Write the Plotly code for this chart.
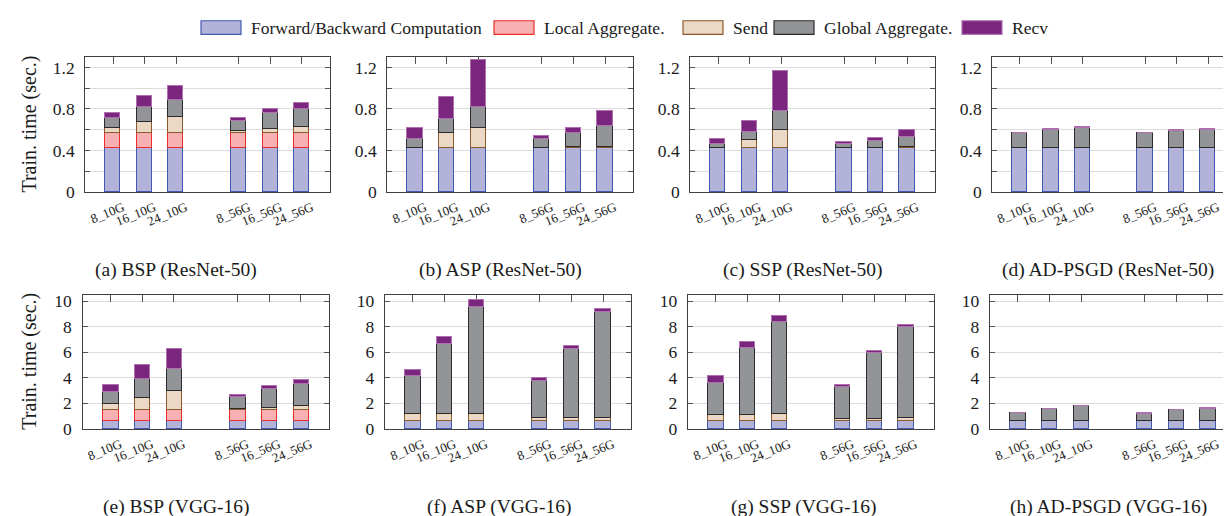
import plotly.graph_objects as go

W, H = 1231, 516

# ---------------- data ----------------
CATEGORIES = ["8_10G", "16_10G", "24_10G", "8_56G", "16_56G", "24_56G"]
COMPONENTS = ["Forward/Backward Computation", "Local Aggregate.", "Send",
              "Global Aggregate.", "Recv"]

# segment heights (sec.) per panel, order = CATEGORIES
BSP_RESNET = {
    "fwd":    [0.42, 0.42, 0.42, 0.42, 0.42, 0.42],
    "local":  [0.15, 0.15, 0.15, 0.15, 0.15, 0.15],
    "send":   [0.045, 0.10, 0.15, 0.017, 0.04, 0.058],
    "global": [0.10, 0.15, 0.17, 0.10, 0.15, 0.175],
    "recv":   [0.05, 0.10, 0.13, 0.022, 0.04, 0.05],
}
ASP_RESNET = {
    "fwd":    [0.42, 0.42, 0.42, 0.42, 0.42, 0.42],
    "local":  [0, 0, 0, 0, 0, 0],
    "send":   [0.007, 0.148, 0.195, 0.007, 0.016, 0.016],
    "global": [0.085, 0.138, 0.20, 0.085, 0.135, 0.198],
    "recv":   [0.103, 0.204, 0.452, 0.031, 0.044, 0.145],
}
SSP_RESNET = {
    "fwd":    [0.42, 0.42, 0.42, 0.42, 0.42, 0.42],
    "local":  [0, 0, 0, 0, 0, 0],
    "send":   [0.008, 0.078, 0.18, 0.008, 0.008, 0.01],
    "global": [0.038, 0.075, 0.178, 0.038, 0.063, 0.102],
    "recv":   [0.041, 0.114, 0.384, 0.016, 0.026, 0.068],
}
ADPSGD_RESNET = {
    "fwd":    [0.42, 0.42, 0.42, 0.42, 0.42, 0.42],
    "local":  [0, 0, 0, 0, 0, 0],
    "send":   [0, 0, 0, 0, 0, 0],
    "global": [0.15, 0.18, 0.20, 0.15, 0.17, 0.18],
    "recv":   [0.002, 0.002, 0.005, 0.002, 0.004, 0.002],
}
BSP_VGG = {
    "fwd":    [0.66, 0.66, 0.66, 0.66, 0.66, 0.66],
    "local":  [0.81, 0.81, 0.81, 0.81, 0.81, 0.81],
    "send":   [0.48, 0.99, 1.52, 0.10, 0.20, 0.31],
    "global": [0.99, 1.50, 1.76, 0.99, 1.50, 1.77],
    "recv":   [0.54, 1.04, 1.54, 0.13, 0.21, 0.31],
}
ASP_VGG = {
    "fwd":    [0.66, 0.66, 0.66, 0.66, 0.66, 0.66],
    "local":  [0, 0, 0, 0, 0, 0],
    "send":   [0.51, 0.51, 0.51, 0.20, 0.20, 0.20],
    "global": [2.97, 5.48, 8.37, 2.95, 5.43, 8.33],
    "recv":   [0.53, 0.53, 0.56, 0.17, 0.21, 0.20],
}
SSP_VGG = {
    "fwd":    [0.66, 0.66, 0.66, 0.66, 0.66, 0.66],
    "local":  [0, 0, 0, 0, 0, 0],
    "send":   [0.48, 0.48, 0.51, 0.15, 0.15, 0.20],
    "global": [2.51, 5.18, 7.18, 2.49, 5.18, 7.14],
    "recv":   [0.49, 0.51, 0.51, 0.13, 0.13, 0.17],
}
ADPSGD_VGG = {
    "fwd":    [0.66, 0.66, 0.66, 0.66, 0.66, 0.66],
    "local":  [0, 0, 0, 0, 0, 0],
    "send":   [0, 0, 0, 0, 0, 0],
    "global": [0.61, 0.91, 1.12, 0.56, 0.81, 0.96],
    "recv":   [0.03, 0.03, 0.03, 0.03, 0.03, 0.03],
}

CAPTIONS = ["(a) BSP (ResNet-50)", "(b) ASP (ResNet-50)", "(c) SSP (ResNet-50)",
            "(d) AD-PSGD (ResNet-50)", "(e) BSP (VGG-16)", "(f) ASP (VGG-16)",
            "(g) SSP (VGG-16)", "(h) AD-PSGD (VGG-16)"]
PANELS = [BSP_RESNET, ASP_RESNET, SSP_RESNET, ADPSGD_RESNET,
          BSP_VGG, ASP_VGG, SSP_VGG, ADPSGD_VGG]

Y_TITLE = "Train. time (sec.)"
TOP_TICKS = [0, 0.4, 0.8, 1.2]
TOP_TICKTEXT = ["0", "0.4", "0.8", "1.2"]
BOT_TICKS = [0, 2, 4, 6, 8, 10]

# ---------------- style ----------------
KEYS = ["fwd", "local", "send", "global", "recv"]
FILL = ["#b3b3da", "#f7b1b3", "#ecd9c5", "#939497", "#7b267e"]
EDGE = ["#4459b0", "#ec2b2b", "#8a5a2c", "#2b2b2b", "#b070b0"]
FONT = "Liberation Serif"

# pixel geometry -> paper
def px_x(p):
    return p / W

def px_y(p):
    return 1 - p / H

TOP_XDOM = [(77.3, 321.7), (379.3, 625.0), (682.3, 927.0), (984.3, 1227.7)]
BOT_XDOM = [(74.5, 320.7), (377.0, 623.0), (680.0, 925.7), (982.0, 1227.7)]
TOP_YDOM = (47.3, 185.7)
BOT_YDOM = (291.0, 428.7)
CAP_X = [168, 492, 795, 1100, 168, 491, 796, 1100]
CAP_Y = [266, 509]

# category positions: two groups of three with a one-slot gap
POS = [g * 4 + i for g in range(2) for i in range(3)]

fig = go.Figure()
layout = dict(
    width=W, height=H, margin=dict(l=0, r=0, t=0, b=0),
    paper_bgcolor="white", plot_bgcolor="white",
    barmode="stack", bargap=0, showlegend=False,
    font=dict(family=FONT, size=17, color="#1a1a1a"),
    annotations=[], shapes=[],
)

for idx, panel in enumerate(PANELS):
    n = idx + 1
    top = idx < 4
    xd = (TOP_XDOM if top else BOT_XDOM)[idx % 4]
    yd = TOP_YDOM if top else BOT_YDOM
    xa = "x" if n == 1 else f"x{n}"
    ya = "y" if n == 1 else f"y{n}"
    for k, key in enumerate(KEYS):
        fig.add_trace(go.Bar(
            x=POS, y=panel[key], width=0.485,
            marker=dict(color=FILL[k], line=dict(color=EDGE[k], width=1)),
            name=COMPONENTS[k], xaxis=xa, yaxis=ya, showlegend=False,
        ))
    xkey = "xaxis" if n == 1 else f"xaxis{n}"
    ykey = "yaxis" if n == 1 else f"yaxis{n}"
    layout[xkey] = dict(
        domain=[px_x(xd[0]), px_x(xd[1])], anchor=ya,
        range=[-0.88, 6.88], tickmode="array", tickvals=POS, ticktext=CATEGORIES,
        tickangle=-22, tickfont=dict(size=13, family=FONT, color="#1a1a1a"),
        ticks="inside", ticklen=7, tickcolor="#555", tickwidth=1,
        showline=True, linecolor="#404040", linewidth=1.3, mirror="ticks",
        showgrid=False, zeroline=False, layer="below traces",
        ticklabelstandoff=2, ticklabelshift=10, fixedrange=True,
    )
    if top:
        ydict = dict(range=[0, 1.3], tickvals=TOP_TICKS, ticktext=TOP_TICKTEXT,
                     minor=dict(dtick=0.2, showgrid=True, gridcolor="#dcdcdc",
                                ticks="inside", ticklen=5, tickcolor="#555"))
    else:
        ydict = dict(range=[0, 10.5], tickvals=BOT_TICKS)
    ydict.update(
        domain=[px_y(yd[1]), px_y(yd[0])], anchor=xa,
        tickmode="array", tickfont=dict(size=17.5, family=FONT, color="#1a1a1a"),
        ticks="inside", ticklen=5, tickcolor="#555", tickwidth=1,
        showline=True, linecolor="#404040", linewidth=1.3, mirror="ticks",
        showgrid=True, gridcolor="#dcdcdc", gridwidth=1,
        zeroline=False, layer="below traces", fixedrange=True,
        ticklabelstandoff=6,
    )
    layout[ykey] = ydict
    layout["annotations"].append(dict(
        text=CAPTIONS[idx], x=px_x(CAP_X[idx]), y=px_y(CAP_Y[0 if top else 1]),
        xref="paper", yref="paper", xanchor="center", yanchor="middle",
        showarrow=False, font=dict(size=19.5, family=FONT, color="#1a1a1a"),
    ))

# y-axis titles
for yd in (TOP_YDOM, BOT_YDOM):
    layout["annotations"].append(dict(
        text=Y_TITLE, x=px_x(22), y=px_y((yd[0] + yd[1]) / 2),
        xref="paper", yref="paper", xanchor="center", yanchor="middle",
        textangle=-90, showarrow=False,
        font=dict(size=20, family=FONT, color="#1a1a1a"),
    ))

# legend drawn as boxes + text across the top
LEG_BOX_X = [193, 486, 675, 766, 954]
for k, label in enumerate(COMPONENTS):
    x0 = LEG_BOX_X[k]
    layout["shapes"].append(dict(
        type="rect", xref="paper", yref="paper",
        x0=px_x(x0), x1=px_x(x0 + 40), y0=px_y(24), y1=px_y(10),
        fillcolor=FILL[k], line=dict(color=EDGE[k], width=1.2),
    ))
    layout["annotations"].append(dict(
        text=label, x=px_x(x0 + 48), y=px_y(17), xref="paper", yref="paper",
        xanchor="left", yanchor="middle", showarrow=False,
        font=dict(size=17.5, family=FONT, color="#1a1a1a"),
    ))

fig.update_layout(**layout)
fig.write_html("out.html", config={"displayModeBar": False})
